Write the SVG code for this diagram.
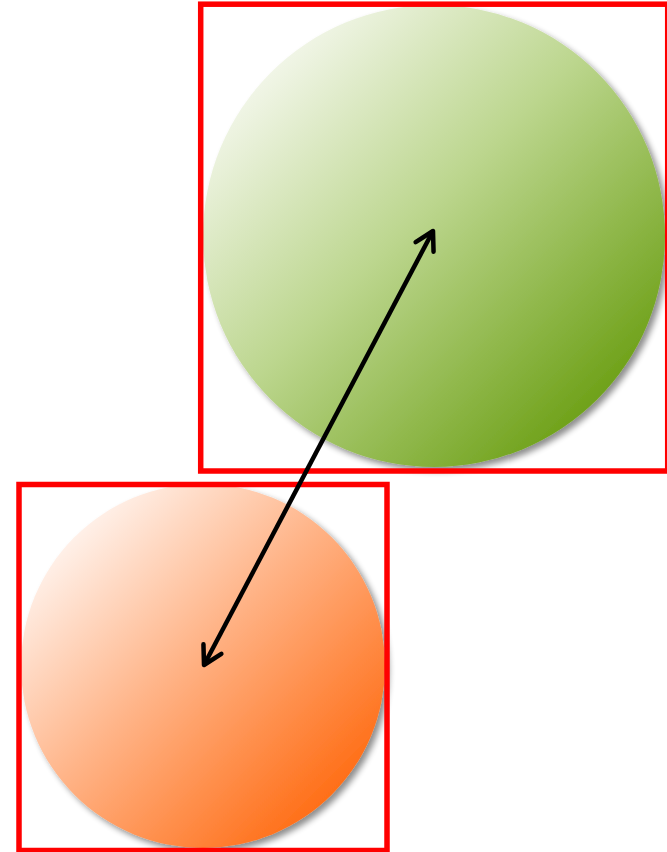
<svg xmlns="http://www.w3.org/2000/svg" width="667" height="852" viewBox="0 0 667 852">
  <defs>
    <linearGradient id="gGreen" x1="0.12" y1="0.12" x2="0.88" y2="0.88">
      <stop offset="0" stop-color="#f5f8ee"/>
      <stop offset="0.45" stop-color="#bcd68e"/>
      <stop offset="1" stop-color="#6a9e12"/>
    </linearGradient>
    <linearGradient id="gOrange" x1="0.12" y1="0.12" x2="0.88" y2="0.88">
      <stop offset="0" stop-color="#fff5f0"/>
      <stop offset="0.45" stop-color="#ffb488"/>
      <stop offset="1" stop-color="#ff6a10"/>
    </linearGradient>
    <filter id="shadow" x="-10%" y="-10%" width="125%" height="125%">
      <feGaussianBlur in="SourceAlpha" stdDeviation="3"/>
      <feOffset dx="4" dy="4" result="b"/>
      <feComponentTransfer><feFuncA type="linear" slope="0.45"/></feComponentTransfer>
      <feMerge><feMergeNode/><feMergeNode in="SourceGraphic"/></feMerge>
    </filter>
    <marker id="open" viewBox="0 0 12 12" refX="10" refY="6" markerWidth="6" markerHeight="6" orient="auto-start-reverse" markerUnits="strokeWidth">
      <path d="M2,1.5 L10,6 L2,10.5" fill="none" stroke="#000" stroke-width="2" stroke-linecap="round" stroke-linejoin="round"/>
    </marker>
    <style>
      .frame { fill: none; stroke: #ff0000; stroke-width: 5.5; }
      .link { fill: none; stroke: #000; stroke-width: 4.5; }
    </style>
  </defs>
  <g id="green-node">
    <circle cx="434" cy="236" r="231" fill="url(#gGreen)" filter="url(#shadow)"/>
    <rect class="frame" x="200.7" y="4.2" width="467" height="466.8"/>
  </g>
  <g id="orange-node">
    <circle cx="203" cy="666" r="182" fill="url(#gOrange)" filter="url(#shadow)"/>
    <rect class="frame" x="19" y="484.5" width="368" height="366"/>
  </g>
  <g id="connectors">
    <line class="link" x1="204" y1="665" x2="433" y2="231" marker-start="url(#open)" marker-end="url(#open)"/>
  </g>
</svg>
